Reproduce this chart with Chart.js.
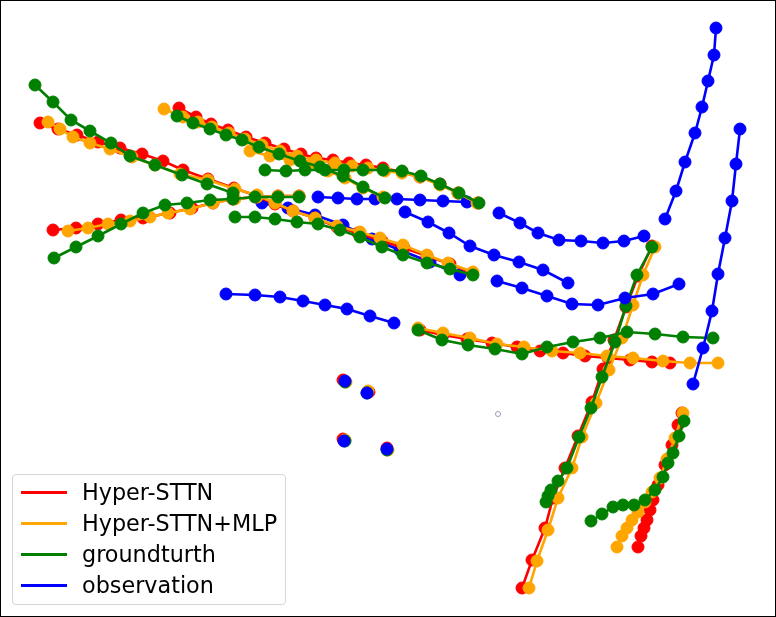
<!DOCTYPE html>
<html>
<head>
<meta charset="utf-8">
<script src="https://cdn.jsdelivr.net/npm/chart.js@4.4.0/dist/chart.umd.min.js"></script>
<style>
  html, body { margin: 0; padding: 0; background: #fff; }
  #wrap { position: relative; width: 776px; height: 617px; }
  #c { position: absolute; left: 0; top: 0; }
  #legend { position: absolute; left: 12px; top: 474px; width: 272px; height: 129px;
    border: 1px solid #d6d6d6; border-radius: 4px; background: rgba(255,255,255,0.85);
    font-family: "DejaVu Sans", sans-serif; font-size: 22.3px; color: #000; }
  .row { position: absolute; left: 0; height: 26px; }
  .sw { position: absolute; left: 8px; width: 46px; height: 3px; top: 11.5px; }
  .lb { position: absolute; left: 69px; top: 0; line-height: 26px; white-space: nowrap; }
</style>
</head>
<body>
<div id="wrap">
  <canvas id="c" width="776" height="617"></canvas>
  <div id="legend"></div>
</div>
<script>
// ---- Series names and colours ----
const seriesNames  = ["Hyper-STTN", "Hyper-STTN+MLP", "groundturth", "observation"];
const seriesColors = ["#ff0000", "#ffa500", "#008000", "#0000ff"];

// ---- observation (blue) trajectories ----
const obs1 = [[226,294],[255,295],[280,297],[303,301],[325,305],[347,309],[370,316],[394,323]];
const obs2 = [[318,197],[338,198],[357,199],[375,199],[397,199],[420,200],[443,201],[467,202]];
const obs3 = [[405,212],[428,222],[449,233],[470,246],[494,255],[519,262],[543,270],[568,283]];
const obs4 = [[499,213],[520,223],[538,233],[559,240],[581,241],[603,243],[624,241],[644,236]];
const obs5 = [[497,281],[522,288],[547,296],[572,304],[598,305],[625,298],[653,294],[679,284]];
const obs6 = [[716,28],[714,55],[708,81],[702,107],[695,133],[685,162],[676,191],[665,219]];
const obs7 = [[740,129],[736,164],[732,201],[725,238],[718,274],[712,311],[703,348],[693,384]];
const obs8 = [[262,203],[288,208],[315,215],[343,225],[372,239],[400,250],[430,262],[460,275]];
const obsStill = [[345,381],[367,393],[344,441],[387,449]];

// ---- groundturth (green) trajectories ----
const gt1 = [[35,85],[53,102],[71,120],[90,131],[111,143],[130,156],[155,165],[182,175],[207,184],[233,193]];
const gt2 = [[235,217],[255,217],[275,219],[297,222],[318,224],[340,230],[360,237],[382,247],[403,255],[427,263],[450,269],[473,275]];
const gt3 = [[54,258],[76,247],[98,236],[121,224],[143,213],[165,205],[187,203],[210,200],[233,199],[255,197],[278,197],[299,197]];
const gt4 = [[177,116],[193,123],[210,129],[226,135],[242,140],[259,147],[279,154],[300,161],[320,167],[343,176],[363,187],[385,198]];
const gt5 = [[265,170],[286,171],[305,170],[325,170],[344,170],[363,170],[383,170],[402,171],[421,176],[440,184],[459,193],[479,203]];
const gt6 = [[418,330],[442,340],[468,345],[495,349],[522,354],[547,347],[573,342],[600,338],[627,332],[655,334],[683,337],[713,338]];
const gt7 = [[652,247],[637,275],[626,306],[615,342],[602,377],[591,408],[579,437],[567,468],[558,481],[551,490],[548,496],[546,502]];
const gt8 = [[684,421],[679,436],[673,453],[668,463],[663,477],[655,490],[645,500],[634,505],[623,505],[613,507],[602,514],[591,521]];
const gtStill = [[345,382],[367,393],[345,441],[387,450]];

// ---- Hyper-STTN+MLP (orange) trajectories ----
const mlp1 = [[48,122],[60,129],[73,137],[90,143],[110,149],[132,157],[155,165],[180,174],[208,180],[235,189],[257,195],[275,203],[293,211],[315,218],[337,226],[360,232],[380,238],[403,245],[427,255],[448,263],[473,272]];
const mlp2 = [[68,231],[88,228],[108,224],[130,221],[150,217],[168,213],[190,209],[213,203],[235,199],[257,197],[278,196],[299,196]];
const mlp3 = [[164,109],[183,117],[198,122],[212,127],[229,133],[245,139],[262,145],[280,151],[297,156],[316,160],[335,163],[352,166],[368,168],[385,171],[402,173],[420,177],[440,185],[458,193],[477,203]];
const mlp4 = [[250,151],[270,156],[290,160],[310,165],[328,171],[345,178],[363,188],[383,197]];
const mlp5 = [[418,328],[443,333],[470,338],[497,344],[524,347],[552,351],[580,353],[607,356],[633,358],[663,361],[690,363],[718,363]];
const mlp6 = [[655,247],[643,275],[633,305],[622,338],[609,370],[596,403],[582,437],[572,468],[558,498],[548,530],[537,561],[529,588]];
const mlp7 = [[683,413],[675,438],[667,459],[660,478],[652,492],[645,502],[638,512],[632,520],[627,528],[622,536],[617,547]];
const mlpStill = [[346,382],[368,391],[345,440],[388,450]];

// ---- Hyper-STTN (red) trajectories ----
const hs1 = [[40,123],[58,129],[77,135],[98,142],[120,148],[142,154],[163,161],[183,170],[208,179],[234,188],[257,196],[275,204],[293,211],[315,218],[337,227],[358,233],[382,241],[404,248],[427,256],[450,264],[472,273]];
const hs2 = [[53,230],[76,228],[98,224],[121,220],[143,218],[170,213],[192,208],[213,203],[233,199],[257,197],[278,196],[299,196]];
const hs3 = [[179,108],[196,117],[211,124],[228,130],[246,137],[265,143],[284,149],[301,154],[316,158],[333,160],[349,163],[366,165],[383,168],[402,172],[420,177],[440,184],[458,193],[478,203]];
const hs4 = [[420,330],[443,335],[467,339],[492,343],[517,347],[540,351],[563,353],[585,356],[608,358],[630,360],[652,362],[670,363]];
const hs5 = [[652,246],[638,276],[626,307],[614,340],[603,369],[592,402],[578,436],[565,468],[553,498],[545,528],[532,560],[522,588]];
const hs6 = [[682,413],[678,425],[672,445],[665,465],[658,485],[653,500],[650,510],[647,520],[644,528],[641,536],[638,547]];
const hsStill = [[343,380],[369,392],[343,439],[387,448]];

// stray hollow marker
const strayPoint = [[498,414]];

// ---- build datasets (index 0 drawn on top) ----
function toXY(arr) { return arr.map(p => ({ x: p[0], y: p[1] })); }
function traj(arr, color, line) {
  return {
    data: toXY(arr), showLine: line, borderColor: color, backgroundColor: color,
    pointBackgroundColor: color, pointBorderColor: color, borderWidth: 2.6,
    pointRadius: 6, pointBorderWidth: 1, pointHoverRadius: 6, tension: 0, clip: false
  };
}
const datasets = [];
[obs1, obs3, obs4, obs5, obs6, obs7].forEach(a => datasets.push(traj(a, seriesColors[3], true)));
datasets.push(traj(obsStill, seriesColors[3], false));
[gt1, gt2, gt3, gt4, gt5, gt6, gt7, gt8].forEach(a => datasets.push(traj(a, seriesColors[2], true)));
datasets.push(traj(gtStill, seriesColors[2], false));
[mlp1, mlp2, mlp3, mlp4, mlp5, mlp6, mlp7].forEach(a => datasets.push(traj(a, seriesColors[1], true)));
datasets.push(traj(mlpStill, seriesColors[1], false));
[hs1, hs2, hs3, hs4, hs5, hs6].forEach(a => datasets.push(traj(a, seriesColors[0], true)));
datasets.push(traj(hsStill, seriesColors[0], false));
[obs2, obs8].forEach(a => datasets.push(traj(a, seriesColors[3], true)));
datasets.push({ data: toXY(strayPoint), showLine: false, pointRadius: 2.5, pointBorderWidth: 1,
  pointBorderColor: "#9a9ac0", pointBackgroundColor: "rgba(255,255,255,0)", clip: false });

const framePlugin = {
  id: 'frame',
  afterDraw(chart) {
    const ctx = chart.ctx;
    ctx.save();
    ctx.strokeStyle = '#000';
    ctx.lineWidth = 1;
    ctx.strokeRect(0.5, 0.5, chart.width - 1, chart.height - 1);
    ctx.restore();
  }
};

new Chart(document.getElementById('c'), {
  type: 'scatter',
  data: { datasets },
  options: {
    responsive: false, animation: false, devicePixelRatio: 1,
    layout: { padding: 0, autoPadding: false },
    plugins: { legend: { display: false }, tooltip: { enabled: false } },
    events: [],
    scales: {
      x: { type: 'linear', min: 0, max: 776, display: false },
      y: { type: 'linear', min: 0, max: 617, reverse: true, display: false }
    }
  },
  plugins: [framePlugin]
});

// ---- legend (HTML text) ----
const legend = document.getElementById('legend');
seriesNames.forEach((name, i) => {
  const row = document.createElement('div');
  row.className = 'row';
  row.style.top = (4 + i * 31) + 'px';
  row.style.width = '100%';
  const sw = document.createElement('div');
  sw.className = 'sw';
  sw.style.background = seriesColors[i];
  const lb = document.createElement('div');
  lb.className = 'lb';
  lb.textContent = name;
  row.appendChild(sw); row.appendChild(lb);
  legend.appendChild(row);
});
</script>
</body>
</html>
